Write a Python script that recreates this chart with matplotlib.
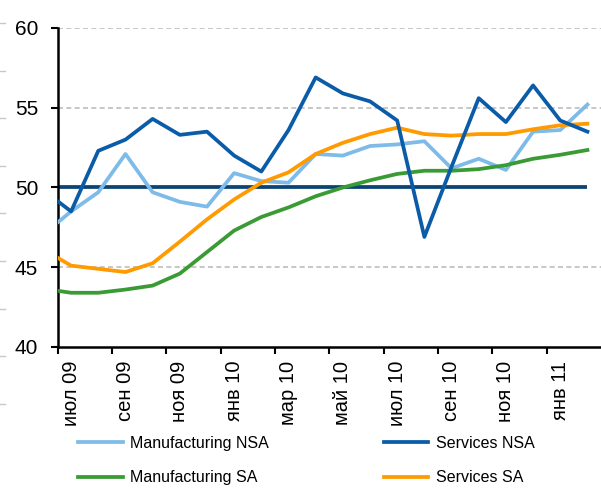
import numpy as np
import matplotlib
matplotlib.use("Agg")
import matplotlib.pyplot as plt
from matplotlib.lines import Line2D

plt.rcParams['font.family'] = ['Liberation Sans', 'DejaVu Sans']

# Monthly data, Jun 09 .. Feb 11 (index 0 = Jun 09)
mfg_nsa = [47.1, 48.5, 49.7, 52.1, 49.7, 49.1, 48.8, 50.9, 50.4, 50.3, 52.1,
           52.0, 52.6, 52.7, 52.9, 51.2, 51.8, 51.1, 53.5, 53.6, 55.2]
serv_nsa = [49.8, 48.5, 52.3, 53.0, 54.3, 53.3, 53.5, 52.0, 51.0, 53.6, 56.9,
            55.9, 55.4, 54.2, 46.9, 51.3, 55.6, 54.1, 56.4, 54.2, 53.5]
mfg_sa = [43.65, 43.4, 43.4, 43.6, 43.85, 44.6, 45.95, 47.3, 48.15, 48.75, 49.45,
          50.0, 50.45, 50.85, 51.05, 51.05, 51.15, 51.4, 51.8, 52.05, 52.35]
serv_sa = [46.1, 45.1, 44.9, 44.7, 45.25, 46.6, 48.0, 49.25, 50.3, 50.95, 52.1,
           52.8, 53.35, 53.75, 53.35, 53.25, 53.35, 53.35, 53.65, 53.9, 54.0]
threshold = [50] * len(mfg_nsa)

tick_labels = ["июл 09", "сен 09", "ноя 09", "янв 10", "мар 10",
               "май 10", "июл 10", "сен 10", "ноя 10", "янв 11"]
y_ticks = [40, 45, 50, 55, 60]

x = np.arange(len(mfg_nsa))

fig = plt.figure(figsize=(6.01, 4.91), dpi=100)
ax = fig.add_axes([0.0957, 0.2933, 0.9043, 0.6497])

for yv in [45, 55, 60]:
    ax.axhline(yv, color="#bdbdbd", lw=1.2, ls=(0, (3, 2)), zorder=1)

lw = 2.7
ax.plot(x, threshold, color="#0b4373", lw=lw, zorder=2, solid_capstyle="butt")
ax.plot(x, mfg_nsa, color="#7fbbe9", lw=lw, zorder=3, label="Manufacturing NSA")
ax.plot(x, mfg_sa, color="#3a9b35", lw=lw, zorder=3, label="Manufacturing SA")
ax.plot(x, serv_sa, color="#ff9a00", lw=lw, zorder=4, label="Services SA")
ax.plot(x, serv_nsa, color="#0b5ca8", lw=lw, zorder=5, label="Services NSA")

ax.set_xlim(0.5, 20.5)
ax.set_ylim(40, 60)
ax.set_yticks(y_ticks)
ax.set_yticklabels([str(v) for v in y_ticks], fontsize=15)

ax.set_xticks(np.arange(0.5, 19, 2))
ax.set_xticklabels([])
ax.set_xticks(np.arange(1, 20, 2), minor=True)
ax.set_xticklabels(tick_labels, minor=True, rotation=90, fontsize=14.5)
ax.tick_params(axis="x", which="minor", length=0, pad=10)
ax.tick_params(axis="x", which="major", length=5, width=1.5, direction="out")
ax.tick_params(axis="y", length=5, width=1.5, direction="out", pad=9)

for s in ["top", "right"]:
    ax.spines[s].set_visible(False)
for s in ["left", "bottom"]:
    ax.spines[s].set_linewidth(1.8)
    ax.spines[s].set_color("black")

# legend in picture order: row-wise
h = {l.get_label(): l for l in ax.get_lines()}
order = ["Manufacturing NSA", "Manufacturing SA", "Services NSA", "Services SA"]
fig.legend([h[k] for k in order], order, ncol=2, loc="upper left",
           bbox_to_anchor=(78 / 601, 0.112), frameon=False, fontsize=11.5,
           handlelength=2.8, handletextpad=0.45, columnspacing=7.2,
           labelspacing=1.2, borderaxespad=0, borderpad=0)

# faint stubs at the left edge (from a neighbouring element)
for yy in np.arange(23, 420, 47.6):
    fig.add_artist(Line2D([0, 5 / 601], [1 - yy / 491, 1 - yy / 491],
                          color="#c8c8c8", lw=1))

fig.savefig("out.png", dpi=100)
